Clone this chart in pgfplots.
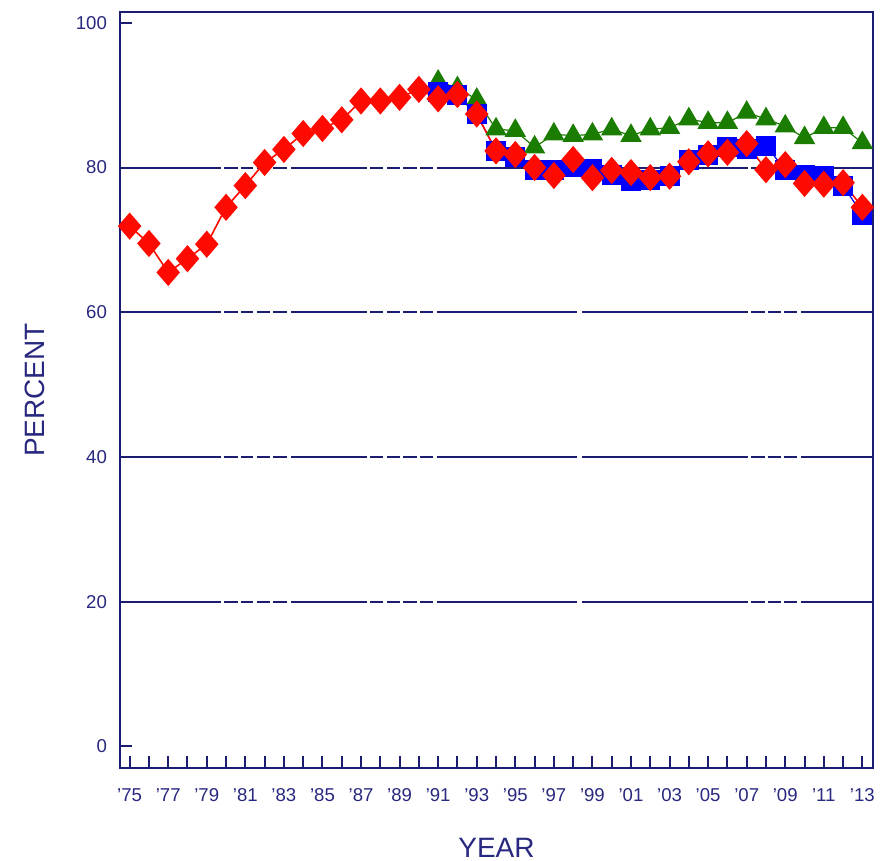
\documentclass[border=0pt]{standalone}
\usepackage{fontspec}
\setmainfont{Liberation Sans}
\usepackage{pgfplots}
\pgfplotsset{compat=1.18}

\definecolor{navy}{RGB}{28,28,112}
\definecolor{labnavy}{RGB}{40,40,128}
\definecolor{sqblue}{RGB}{0,0,255}
\definecolor{dgreen}{RGB}{26,124,0}
\definecolor{dred}{RGB}{255,10,0}

% grid line pattern of the original, measured along the 40 line
\tikzset{oddgrid/.style={dash pattern=on 50.5pt off 1.5pt on 7pt off 1.5pt on 6pt off 2pt on 6.5pt off 1.5pt on 7pt off 2pt on 38pt off 1.5pt on 6.5pt off 2pt on 6.5pt off 1.5pt on 7pt off 1.5pt on 6.5pt off 2pt on 70pt off 2.5pt on 83pt off 1.5pt on 7pt off 1.5pt on 6.5pt off 1.5pt on 6.5pt off 2pt on 40pt}}

\begin{document}
\begin{tikzpicture}
\path[use as bounding box] (-60pt,-46.5pt) rectangle (382pt,384pt);
\begin{axis}[
  at={(0,0)}, anchor=south west,
  scale only axis,
  width=376.5pt, height=378pt,
  xmin=1974.5, xmax=2013.55,
  ymin=-3, ymax=101.5,
  axis line style={navy, line width=1.1pt},
  tick style={navy, line width=1pt},
  major tick length=6pt, minor tick length=6pt,
  tick align=inside,
  xtick={1975,1977,...,2013},
  minor xtick={1976,1978,...,2012},
  xticklabels={'75,'77,'79,'81,'83,'85,'87,'89,'91,'93,'95,'97,'99,'01,'03,'05,'07,'09,'11,'13},
  ytick={20,40,60,80},
  extra y ticks={0,100},
  extra y tick style={grid=none},
  xtick pos=bottom, ytick pos=left,
  ymajorgrids=true,
  major grid style={navy, line width=1pt, oddgrid},
  ticklabel style={font=\fontsize{9.3}{11}\selectfont, text=labnavy},
  xticklabel style={yshift=-6pt, text height=7pt, text depth=0pt},
  yticklabel style={xshift=-3pt},
  /pgf/number format/assume math mode=true,
  xlabel={YEAR}, ylabel={PERCENT},
  label style={font=\fontsize{14}{16}\selectfont, text=labnavy},
  xlabel style={at={(axis description cs:0.5,0)}, anchor=center, yshift=-40pt},
  ylabel style={at={(axis description cs:-0.113,0.5)}, anchor=center},
  clip=false,
]
\addplot[dgreen, line width=0.6pt, mark=triangle*, mark size=5.6pt, mark options={solid, fill=dgreen, draw=dgreen}] coordinates {
(1991,91.9) (1992,91.0) (1993,89.4) (1994,85.3) (1995,85.1) (1996,82.8) (1997,84.6) (1998,84.4) (1999,84.6) (2000,85.3)
(2001,84.4) (2002,85.3) (2003,85.5) (2004,86.7) (2005,86.2) (2006,86.2) (2007,87.6) (2008,86.7) (2009,85.7) (2010,84.1)
(2011,85.5) (2012,85.5) (2013,83.4)};
\addplot[sqblue, line width=0.6pt, mark=square*, mark size=4.7pt, mark options={solid, fill=sqblue, draw=sqblue}] coordinates {
(1991,90.5) (1992,90.0) (1993,87.4) (1994,82.3) (1995,81.4) (1996,79.6) (1997,79.6) (1998,80.1) (1999,79.8) (2000,78.9)
(2001,78.1) (2002,78.3) (2003,78.8) (2004,81.1) (2005,81.8) (2006,82.8) (2007,82.5) (2008,83.0) (2009,79.7) (2010,78.9)
(2011,78.8) (2012,77.5) (2013,73.5)};
\addplot[dred, line width=0.8pt, mark=diamond*, mark size=6.2pt, mark options={solid, fill=dred, draw=dred, xscale=1.15}] coordinates {
(1975,71.9) (1976,69.5) (1977,65.5) (1978,67.4) (1979,69.4) (1980,74.5) (1981,77.5) (1982,80.7) (1983,82.5) (1984,84.7)
(1985,85.4) (1986,86.6) (1987,89.2) (1988,89.2) (1989,89.7) (1990,90.8) (1991,89.5) (1992,90.1) (1993,87.4) (1994,82.3)
(1995,81.8) (1996,80.0) (1997,78.9) (1998,81.1) (1999,78.6) (2000,79.6) (2001,79.3) (2002,78.6) (2003,78.8) (2004,80.8)
(2005,81.9) (2006,82.1) (2007,83.3) (2008,79.7) (2009,80.4) (2010,77.8) (2011,77.7) (2012,77.9) (2013,74.5)};
\end{axis}
\end{tikzpicture}
\end{document}
